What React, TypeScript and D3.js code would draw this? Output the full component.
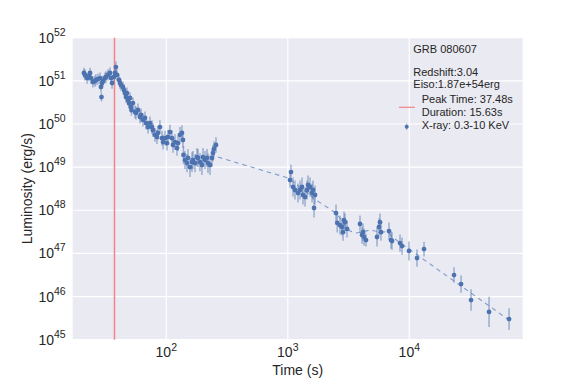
import * as d3 from "d3";
import { useEffect, useRef } from "react";

// [time (s), luminosity (erg/s), error (dex)]
const promptPoints = [
  [21.0, 1.52e51, 0.12], [21.4, 1.37e51, 0.13], [22.3, 1.16e51, 0.13], [23.1, 1.29e51, 0.12],
  [23.6, 1.52e51, 0.12], [24.0, 1.16e51, 0.13], [24.9, 9.4e50, 0.13], [25.9, 9.9e50, 0.13],
  [26.4, 1.05e51, 0.13], [27.4, 1.1e51, 0.13], [28.5, 1.16e51, 0.13], [29.0, 7.2e50, 0.13],
  [29.3, 4.2e50, 0.1], [29.6, 8.9e50, 0.13], [30.1, 9.9e50, 0.13], [31.3, 1.16e51, 0.13],
  [31.9, 1.23e51, 0.13], [33.1, 1.37e51, 0.13], [34.4, 1.52e51, 0.13], [35.1, 1.16e51, 0.13],
  [35.8, 8.9e50, 0.13], [37.1, 1.23e51, 0.13], [37.8, 1.52e51, 0.13], [38.5, 2.09e51, 0.13],
  [39.3, 1.37e51, 0.13], [40.8, 1.05e51, 0.13], [41.6, 8.9e50, 0.13], [42.4, 8.0e50, 0.13],
  [44.0, 7.2e50, 0.13], [44.9, 6.1e50, 0.13], [45.7, 5.2e50, 0.13], [46.6, 4.2e50, 0.13],
  [47.5, 5.2e50, 0.13], [48.4, 3.6e50, 0.13], [49.3, 3.06e50, 0.13], [50.3, 4.0e50, 0.13],
  [51.2, 2.48e50, 0.13], [51.7, 2.11e50, 0.13], [53.2, 3.06e50, 0.13], [55.3, 1.9e50, 0.15],
  [56.3, 1.8e50, 0.15], [58.5, 2.11e50, 0.15], [60.8, 1.45e50, 0.15], [62.0, 1.62e50, 0.15],
  [64.3, 1.24e50, 0.15], [66.8, 1.38e50, 0.15], [68.1, 1.05e50, 0.15], [70.7, 8.5e49, 0.15],
  [73.4, 1.05e50, 0.15], [76.3, 8.5e49, 0.16], [77.7, 7.2e49, 0.16], [80.7, 5.6e49, 0.16],
  [83.8, 5.0e49, 0.16], [85.4, 6.2e49, 0.16], [88.7, 8.5e49, 0.16], [92.2, 4.7e49, 0.17],
  [94.0, 3.8e49, 0.17], [97.6, 4.7e49, 0.17], [101.3, 3.6e49, 0.17], [103.3, 5.0e49, 0.17],
  [107.3, 6.5e49, 0.17], [111.4, 4.7e49, 0.18], [113.6, 3.26e49, 0.18], [117.9, 3.8e49, 0.18],
  [122.5, 2.77e49, 0.18], [124.8, 3.6e49, 0.18], [129.6, 5.6e49, 0.18], [134.6, 6.2e49, 0.18],
  [137.2, 4.25e49, 0.18], [138.5, 1.91e49, 0.21], [142.5, 1.46e49, 0.21], [148.0, 1.24e49, 0.21],
  [150.8, 1.63e49, 0.21], [156.7, 1.0e49, 0.23], [162.7, 1.31e49, 0.23], [165.8, 1.46e49, 0.21],
  [172.3, 1.24e49, 0.21], [178.9, 1.71e49, 0.21], [182.3, 1.63e49, 0.21], [189.4, 1.31e49, 0.21],
  [196.7, 1.12e49, 0.23], [200.5, 1.71e49, 0.21], [208.2, 1.46e49, 0.21], [216.2, 1.63e49, 0.21],
  [220.4, 1.24e49, 0.23], [228.9, 1.12e49, 0.23], [237.8, 1.63e49, 0.21], [242.3, 2.12e49, 0.19],
  [246.9, 2.63e49, 0.18], [256.5, 3.26e49, 0.18],
];

const flarePoints = [
  [1043, 5.0e48, 0.17], [1063, 7.7e48, 0.17], [1105, 3.46e48, 0.22], [1146, 2.95e48, 0.22],
  [1213, 2.51e48, 0.22], [1260, 2.95e48, 0.22], [1309, 3.46e48, 0.22], [1334, 2.26e48, 0.22],
  [1386, 2.03e48, 0.22], [1439, 2.95e48, 0.22], [1467, 3.85e48, 0.22], [1523, 3.46e48, 0.22],
  [1582, 2.51e48, 0.22], [1613, 2.95e48, 0.22], [1644, 1.13e48, 0.22], [1675, 2.26e48, 0.22],
];

const latePoints = [
  [2493, 8.6e47, 0.2], [2551, 5.1e47, 0.22], [2690, 4.5e47, 0.22], [2793, 4.1e47, 0.2],
  [2847, 3.1e47, 0.2], [2901, 5.9e47, 0.2], [2957, 5.3e47, 0.2], [3071, 3.7e47, 0.2],
  [3929, 4.8e47, 0.2], [4081, 2.67e47, 0.2], [4158, 3.1e47, 0.2], [4240, 2.4e47, 0.2],
  [4401, 2.04e47, 0.15], [5423, 2.4e47, 0.22], [5630, 4.1e47, 0.2], [5738, 5.3e47, 0.2],
  [5849, 3.1e47, 0.2], [6806, 3.3e47, 0.2], [7069, 2.04e47, 0.2], [7204, 1.94e47, 0.2],
  [8385, 1.74e47, 0.2], [8708, 1.48e47, 0.2], [9943, 1.14e47, 0.22], [11570, 7.8e46, 0.2],
  [13213, 1.26e47, 0.17], [23330, 3.15e46, 0.18], [26650, 1.95e46, 0.2], [32200, 8.3e45, 0.25],
  [45290, 4.4e45, 0.35], [66170, 3.0e45, 0.25],
];

const fitTimes = [266, 1004, 1707, 2493, 3251, 3711, 4748, 5220, 6678, 7204, 66170];
const fitLum = [1.71e49, 5.6e48, 1.73e48, 8.6e47, 3.3e47, 2.97e47, 3.48e47, 3.3e47, 3.1e47, 2.4e47, 2.86e45];

const peakTime = 37.48;
const xTicks = [100, 1000, 10000];
const yTicks = [1e45, 1e46, 1e47, 1e48, 1e49, 1e50, 1e51, 1e52];
const infoLines = ["GRB 080607", "", "Redshift:3.04", "Eiso:1.87e+54erg"];
const legendLabels = ["Peak Time: 37.48s", "Duration: 15.63s", "X-ray: 0.3-10 KeV"];

const BLUE = "#4C72B0";
const FONT = "'Liberation Sans', Arial, sans-serif";

function LightCurve() {
  const ref = useRef(null);
  const width = 581;
  const height = 378;
  const margin = { top: 37.7, right: 58.3, bottom: 38.3, left: 72.7 };

  useEffect(() => {
    const svg = d3.select(ref.current);
    svg.selectAll("*").remove();

    const x = d3
      .scaleLog()
      .domain([16.98, 85700])
      .range([margin.left, width - margin.right]);
    const y = d3
      .scaleLog()
      .domain([1e45, 1e52])
      .range([height - margin.bottom, margin.top]);

    svg
      .append("rect")
      .attr("x", margin.left)
      .attr("y", margin.top)
      .attr("width", width - margin.left - margin.right)
      .attr("height", height - margin.top - margin.bottom)
      .attr("fill", "#EAEAF2");

    // grid
    svg
      .append("g")
      .selectAll("line")
      .data(xTicks)
      .join("line")
      .attr("x1", (d) => x(d))
      .attr("x2", (d) => x(d))
      .attr("y1", margin.top)
      .attr("y2", height - margin.bottom)
      .attr("stroke", "white")
      .attr("stroke-width", 1.2);

    svg
      .append("g")
      .selectAll("line")
      .data(yTicks)
      .join("line")
      .attr("x1", margin.left)
      .attr("x2", width - margin.right)
      .attr("y1", (d) => y(d))
      .attr("y2", (d) => y(d))
      .attr("stroke", "white")
      .attr("stroke-width", 1.2);

    // tick labels
    const xl = svg
      .append("g")
      .selectAll("text")
      .data(xTicks)
      .join("text")
      .attr("x", (d) => x(d))
      .attr("y", height - margin.bottom + 17.5)
      .attr("text-anchor", "middle")
      .attr("font-family", FONT)
      .attr("fill", "#262626");
    xl.append("tspan").attr("font-size", 14).text("10");
    xl.append("tspan")
      .attr("font-size", 10.5)
      .attr("dy", -6)
      .text((d) => Math.round(Math.log10(d)));

    const yl = svg
      .append("g")
      .selectAll("text")
      .data(yTicks)
      .join("text")
      .attr("x", margin.left - 7)
      .attr("y", (d) => y(d) + 5)
      .attr("text-anchor", "end")
      .attr("font-family", FONT)
      .attr("fill", "#262626");
    yl.append("tspan").attr("font-size", 14).text("10");
    yl.append("tspan")
      .attr("font-size", 10.5)
      .attr("dy", -7)
      .text((d) => Math.round(Math.log10(d)));

    svg
      .append("text")
      .attr("x", (margin.left + width - margin.right) / 2)
      .attr("y", 375)
      .attr("text-anchor", "middle")
      .attr("font-family", FONT)
      .attr("font-size", 14)
      .attr("fill", "#262626")
      .text("Time (s)");

    svg
      .append("text")
      .attr("transform", `translate(32,${(margin.top + height - margin.bottom) / 2}) rotate(-90)`)
      .attr("text-anchor", "middle")
      .attr("font-family", FONT)
      .attr("font-size", 14)
      .attr("fill", "#262626")
      .text("Luminosity (erg/s)");

    // peak time marker
    svg
      .append("line")
      .attr("x1", x(peakTime))
      .attr("x2", x(peakTime))
      .attr("y1", margin.top)
      .attr("y2", height - margin.bottom)
      .attr("stroke", "#F28585")
      .attr("stroke-width", 1.5);

    // fit line
    const fitData = fitTimes.map((t, i) => [t, fitLum[i]]);
    const line = d3
      .line()
      .x((d) => x(d[0]))
      .y((d) => y(d[1]));
    svg
      .append("path")
      .datum(fitData)
      .attr("d", line)
      .attr("fill", "none")
      .attr("stroke", "#7D9BCB")
      .attr("stroke-width", 1.1)
      .attr("stroke-dasharray", "4.5,4");

    const allPoints = [...promptPoints, ...flarePoints, ...latePoints];

    svg
      .append("g")
      .selectAll("line")
      .data(allPoints)
      .join("line")
      .attr("x1", (d) => x(d[0]))
      .attr("x2", (d) => x(d[0]))
      .attr("y1", (d) => y(d[1] * Math.pow(10, d[2])))
      .attr("y2", (d) => y(d[1] / Math.pow(10, d[2])))
      .attr("stroke", BLUE)
      .attr("stroke-opacity", 0.5)
      .attr("stroke-width", 1.5);

    svg
      .append("g")
      .selectAll("circle")
      .data(allPoints)
      .join("circle")
      .attr("cx", (d) => x(d[0]))
      .attr("cy", (d) => y(d[1]))
      .attr("r", 2.4)
      .attr("fill", BLUE);

    // legend
    const info = svg
      .append("g")
      .attr("font-family", FONT)
      .attr("font-size", 11)
      .attr("fill", "#262626");
    info
      .selectAll("text")
      .data(infoLines)
      .join("text")
      .attr("x", 413.3)
      .attr("y", (d, i) => 53 + i * 11.7)
      .text((d) => d);
    info
      .selectAll(".lab")
      .data(legendLabels)
      .join("text")
      .attr("class", "lab")
      .attr("x", 421.7)
      .attr("y", (d, i) => [103, 115.6, 128.8][i])
      .text((d) => d);

    svg
      .append("line")
      .attr("x1", 399)
      .attr("x2", 415)
      .attr("y1", 107.3)
      .attr("y2", 107.3)
      .attr("stroke", "#F28585")
      .attr("stroke-width", 1.2);
    svg
      .append("line")
      .attr("x1", 406.7)
      .attr("x2", 406.7)
      .attr("y1", 123.5)
      .attr("y2", 130)
      .attr("stroke", BLUE)
      .attr("stroke-opacity", 0.5)
      .attr("stroke-width", 1.2);
    svg
      .append("circle")
      .attr("cx", 406.7)
      .attr("cy", 126.7)
      .attr("r", 2)
      .attr("fill", BLUE);
  }, []);

  return (
    <svg
      ref={ref}
      width={width}
      height={height}
      style={{ position: "absolute", left: 0, top: 0, background: "white" }}
    />
  );
}

export default function App() {
  return <LightCurve />;
}
